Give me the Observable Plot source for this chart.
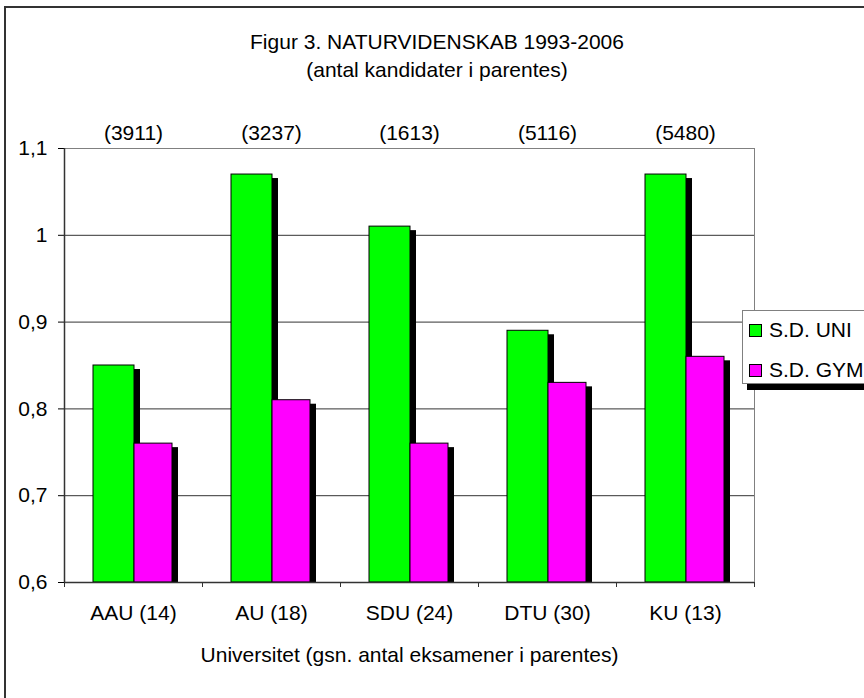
<!DOCTYPE html>
<html>
<head>
<meta charset="utf-8">
<script src="https://cdn.jsdelivr.net/npm/d3@7"></script>
<script src="https://cdn.jsdelivr.net/npm/@observablehq/plot@0.6"></script>
<style>
  html, body { margin: 0; padding: 0; background: #fff; overflow: hidden; }
  body { width: 864px; height: 698px; position: relative; font-family: "Liberation Sans", Arial, sans-serif; }
  #title { box-sizing: border-box; width: 874px; height: 100px; padding-top: 28px; text-align: center; font-size: 21px; line-height: 28px; color: #000; }
  #frame { position: absolute; left: 4px; top: 6px; width: 920px; height: 760px; border: 2px solid #333; pointer-events: none; z-index: 5; }
  #legend { position: absolute; left: 742px; top: 310px; width: 150px; height: 74px; box-sizing: border-box; border: 1px solid #808080; background: #fff; box-shadow: 5px 6px 0 #000; z-index: 4; font-size: 21px; color: #000; }
  .item { position: absolute; left: 6px; display: flex; align-items: center; height: 24px; white-space: nowrap; }
  .sw { width: 11px; height: 11px; border: 1px solid #000; margin-right: 7px; }
</style>
</head>
<body>
<div id="frame"></div>
<div id="title">Figur 3. NATURVIDENSKAB 1993-2006<br>(antal kandidater i parentes)</div>
<div id="chart"></div>
<div id="legend"></div>
<script>
// ---- data ----
const universities = ["AAU", "AU", "SDU", "DTU", "KU"];
const exams = [14, 18, 24, 30, 13];          // gsn. antal eksamener
const candidates = [3911, 3237, 1613, 5116, 5480]; // antal kandidater
const sdUni = [0.85, 1.07, 1.01, 0.89, 1.07];
const sdGym = [0.76, 0.81, 0.76, 0.83, 0.86];
const seriesNames = ["S.D. UNI", "S.D. GYM"];
const seriesColors = ["#00ff00", "#ff00ff"];
const yTicks = [0.6, 0.7, 0.8, 0.9, 1, 1.1];
const yGrid = [0.7, 0.8, 0.9, 1];
const xTitle = "Universitet (gsn. antal eksamener i parentes)";

// ---- derived tables ----
const labels = universities.map((u, i) => `${u} (${exams[i]})`);
const uniRows = labels.map((l, i) => ({label: l, value: sdUni[i]}));
const gymRows = labels.map((l, i) => ({label: l, value: sdGym[i]}));
const countRows = labels.map((l, i) => ({label: l, text: `(${candidates[i]})`}));

const W = 864, H = 598, ML = 64, MR = 110, MT = 48, MB = 116;
const half = (W - ML - MR) / labels.length / 2;
const sInset = {dx: 6, dy: 4, insetBottom: 4};

const chart = Plot.plot({
  width: W, height: H,
  marginLeft: ML, marginRight: MR, marginTop: MT, marginBottom: MB,
  style: {fontFamily: "Liberation Sans, Arial, sans-serif", fontSize: "21px", color: "#000", background: "#fff", overflow: "visible"},
  x: {domain: labels, padding: 0, label: null, tickSize: 0, tickPadding: 23},
  y: {domain: [0.6, 1.1], ticks: yTicks, tickSize: 6, tickPadding: 11, label: null,
      tickFormat: d => String(d).replace(".", ",")},
  marks: [
    Plot.frame({stroke: "#808080"}),
    Plot.ruleY(yGrid, {stroke: "#333", strokeWidth: 1}),
    // UNI shadow + bar
    Plot.barY(uniRows, {x: "label", y1: 0.6, y2: "value", fill: "#000", insetLeft: 29, insetRight: 68, ...sInset}),
    Plot.barY(uniRows, {x: "label", y1: 0.6, y2: "value", fill: seriesColors[0], stroke: "#000", strokeWidth: 1, insetLeft: 29, insetRight: 68}),
    // GYM shadow + bar
    Plot.barY(gymRows, {x: "label", y1: 0.6, y2: "value", fill: "#000", insetLeft: 70, insetRight: 30, ...sInset}),
    Plot.barY(gymRows, {x: "label", y1: 0.6, y2: "value", fill: seriesColors[1], stroke: "#000", strokeWidth: 1, insetLeft: 70, insetRight: 30}),
    // axis lines
    Plot.ruleY([0.6], {stroke: "#333", strokeWidth: 1.5}),
    Plot.ruleX([labels[0]], {dx: -half, stroke: "#333", strokeWidth: 1.5}),
    // category separator ticks
    Plot.ruleX(labels, {x: d => d, dx: -half, y1: 0.6, y2: 0.6, insetBottom: -5, stroke: "#333"}),
    Plot.ruleX([labels[labels.length - 1]], {dx: half, y1: 0.6, y2: 0.6, insetBottom: -5, stroke: "#333"}),
    // candidate counts above
    Plot.text(countRows, {x: "label", frameAnchor: "top", text: "text", dy: -9, lineAnchor: "bottom", fill: "#000"}),
    // x axis title
    Plot.text([xTitle], {frameAnchor: "bottom", text: d => d, dy: 79, lineAnchor: "bottom", fill: "#000"})
  ]
});
document.getElementById("chart").appendChild(chart);

// ---- legend ----
const legend = document.getElementById("legend");
seriesNames.forEach((name, i) => {
  const it = document.createElement("div");
  it.className = "item";
  it.style.top = (7 + i * 40) + "px";
  const sw = document.createElement("div");
  sw.className = "sw";
  sw.style.background = seriesColors[i];
  it.appendChild(sw);
  it.appendChild(document.createTextNode(name));
  legend.appendChild(it);
});
</script>
</body>
</html>
